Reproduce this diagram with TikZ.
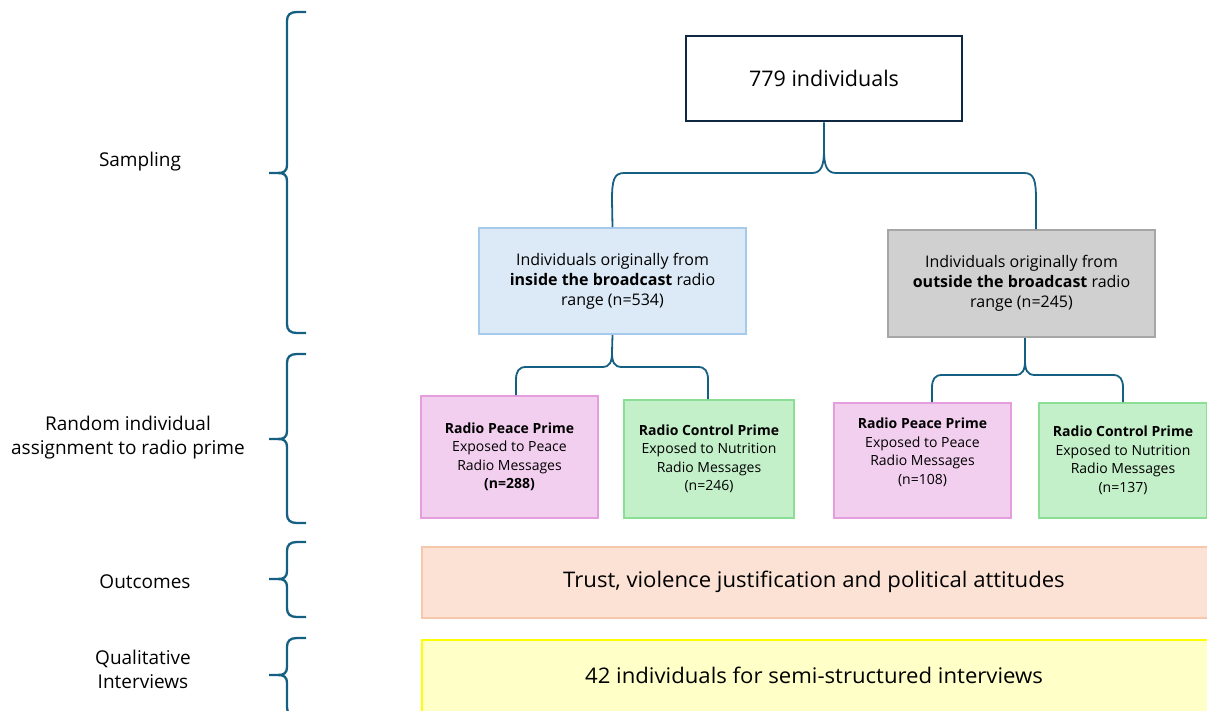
\documentclass[tikz,border=0pt]{standalone}
\usepackage{fontspec}
\setmainfont{Open Sans}
\newfontfamily\narrowfont{Open Sans}[FakeStretch=1.03]
\usetikzlibrary{positioning}

\definecolor{linkblue}{HTML}{156082}
\definecolor{topline}{HTML}{0E2841}
\definecolor{insidefill}{HTML}{DCEAF7}
\definecolor{insideline}{HTML}{A6CAEC}
\definecolor{outsidefill}{HTML}{D0D0D0}
\definecolor{outsideline}{HTML}{A6A6A6}
\definecolor{peacefill}{HTML}{F2CEEF}
\definecolor{peaceline}{HTML}{E49EDD}
\definecolor{controlfill}{HTML}{C3F0C9}
\definecolor{controlline}{HTML}{8ADE95}
\definecolor{outfill}{HTML}{FBE2D5}
\definecolor{outline}{HTML}{F7C7AC}
\definecolor{qualfill}{HTML}{FFFFC8}
\definecolor{qualline}{HTML}{FFFF00}

% curly bracket on the left: top, tip, bottom (pixel rows)
\newcommand{\phasebrace}[3]{%
  \draw[bracket] (306,#1) -- (297,#1) .. controls (290,#1) and (287,#1+3) .. (287,#1+9)
    -- (287,#2-8) .. controls (287,#2-2) and (284,#2) .. (278,#2) -- (269,#2);
  \draw[bracket] (278,#2) .. controls (284,#2) and (287,#2+2) .. (287,#2+8)
    -- (287,#3-9) .. controls (287,#3-3) and (290,#3) .. (297,#3) -- (306,#3);
}

\begin{document}
\begin{tikzpicture}[
    x=1pt, y=-1pt,
    box/.style={rectangle, draw, line width=2pt, align=center, inner sep=0pt},
    link/.style={draw=linkblue, line width=1.8pt},
    bracket/.style={draw=linkblue, line width=2.3pt},
    phase/.style={align=center, font=\fontsize{19}{24}\selectfont},
    midtext/.style={font=\fontsize{16}{20}\selectfont},
    armtext/.style={font=\fontsize{14}{18.5}\selectfont},
    wide/.style={font=\narrowfont\fontsize{21.5}{26}\selectfont}
]
\useasboundingbox (0,0) rectangle (1207,710);

% Phase labels and brackets
\node[phase] (sampling) at (140,162) {Sampling};
\node[phase] (assign) at (128,438) {Random individual\\assignment to radio prime};
\node[phase] (outcomelbl) at (145,582) {Outcomes};
\node[phase] (quallbl) at (143,669) {Qualitative\\Interviews};

\phasebrace{12}{173}{333}
\phasebrace{354}{439}{523}
\phasebrace{542}{579}{617}
\phasebrace{638}{675}{716}

% Sample
\node[box, draw=topline, line width=2.6pt, minimum width=276pt, minimum height=85pt,
      font=\fontsize{21.5}{26}\selectfont] (total) at (824,78.5) {779 individuals};

\node[box, draw=insideline, fill=insidefill, minimum width=267pt, minimum height=106pt, midtext]
    (inside) at (612.5,281) {Individuals originally from\\\textbf{inside the broadcast} radio\\range (n=534)};
\node[box, draw=outsideline, fill=outsidefill, minimum width=267pt, minimum height=107pt, midtext]
    (outside) at (1021.5,283.5) {Individuals originally from\\\textbf{outside the broadcast} radio\\range (n=245)};

% Radio primes
\node[box, draw=peaceline, fill=peacefill, minimum width=177pt, minimum height=122pt, armtext]
    (peaceA) at (509.5,457) {\textbf{Radio Peace Prime}\\Exposed to Peace\\Radio Messages\\\textbf{(n=288)}};
\node[box, draw=controlline, fill=controlfill, minimum width=170pt, minimum height=118pt, armtext]
    (controlA) at (709,459) {\textbf{Radio Control Prime}\\Exposed to Nutrition\\Radio Messages\\(n=246)};
\node[box, draw=peaceline, fill=peacefill, minimum width=177pt, minimum height=115pt, armtext, text depth=19pt]
    (peaceB) at (922.5,460.5) {\textbf{Radio Peace Prime}\\Exposed to Peace\\Radio Messages\\(n=108)};
\node[box, draw=controlline, fill=controlfill, minimum width=168pt, minimum height=115pt, armtext]
    (controlB) at (1123,460.5) {\textbf{Radio Control Prime}\\Exposed to Nutrition\\Radio Messages\\(n=137)};

% Outcomes and interviews
\node[box, draw=outline, fill=outfill, minimum width=800pt, minimum height=71pt, anchor=west, wide]
    (outcomes) at (421,582.5) {};
\node[wide] (outcometext) at (814,582) {Trust, violence justification and political attitudes};
\node[box, draw=qualline, fill=qualfill, minimum width=800pt, minimum height=78pt, anchor=west]
    (interviews) at (421,679) {};
\node[wide] (interviewtext) at (814,675) {42 individuals for semi-structured interviews};

% Split connectors
\draw[link] (inside.north) -- (612,200) .. controls (612,180) and (614,173) .. (624,173)
    -- (812,173) .. controls (821,173) and (824,166) .. (824,150) -- (total.south);
\draw[link] ([xshift=14.5pt]outside.north) -- (1036,200) .. controls (1036,180) and (1034,173) .. (1024,173)
    -- (836,173) .. controls (827,173) and (824,166) .. (824,150);

\draw[link] (inside.south) -- (612,352) .. controls (612,362) and (610,367) .. (602,367)
    -- (526,367) .. controls (519,367) and (516,371) .. (516,380) -- ([xshift=6.5pt]peaceA.north);
\draw[link] (612,352) .. controls (612,362) and (614,367) .. (622,367)
    -- (698,367) .. controls (705,367) and (708,371) .. (708,380) -- ([xshift=-1pt]controlA.north);

\draw[link] ([xshift=3.5pt]outside.south) -- (1025,360) .. controls (1025,370) and (1023,375) .. (1015,375)
    -- (942,375) .. controls (935,375) and (932,379) .. (932,388) -- ([xshift=9.5pt]peaceB.north);
\draw[link] (1025,360) .. controls (1025,370) and (1027,375) .. (1035,375)
    -- (1113,375) .. controls (1120,375) and (1123,379) .. (1123,388) -- (controlB.north);

\end{tikzpicture}
\end{document}
